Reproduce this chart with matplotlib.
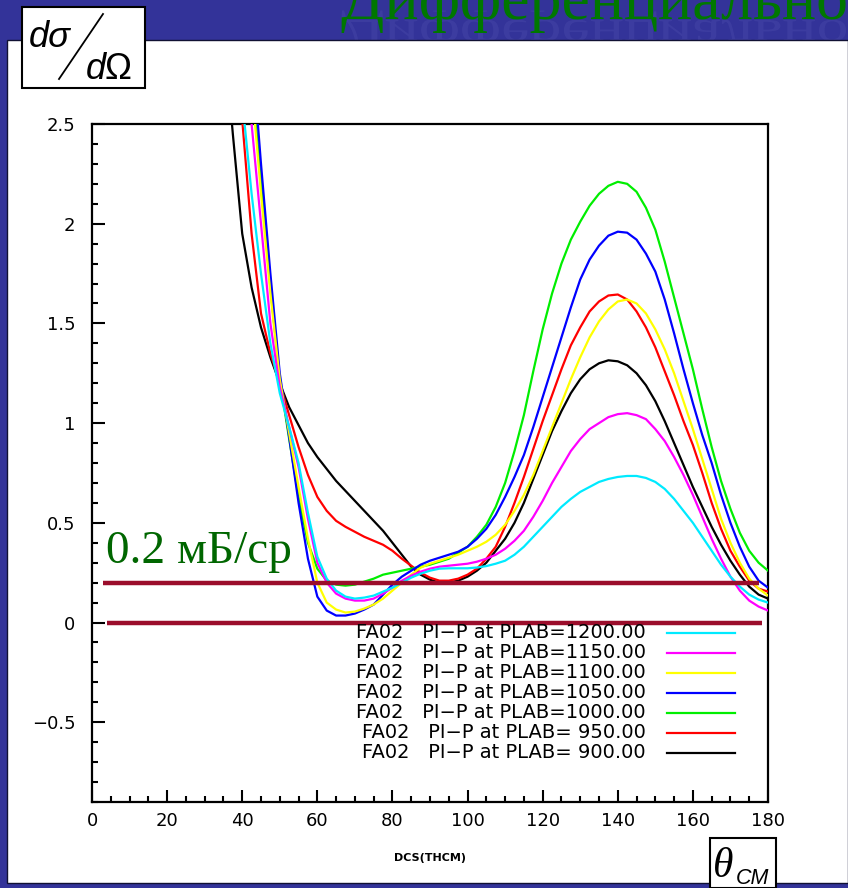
from __future__ import annotations

import matplotlib

matplotlib.use("Agg")
import matplotlib.pyplot as plt
from matplotlib.font_manager import FontProperties
from matplotlib.lines import Line2D
from matplotlib.patches import PathPatch, Rectangle
from matplotlib.textpath import TextPath
from matplotlib.ticker import MultipleLocator
from matplotlib.transforms import Affine2D

# scattering angle in the CM frame, degrees
ANGLE = [35, 37.5, 40, 42.5, 45, 47.5, 50, 52.5, 55, 57.5,
         60, 62.5, 65, 67.5, 70, 72.5, 75, 77.5, 80, 82.5,
         85, 87.5, 90, 92.5, 95, 97.5, 100, 102.5, 105, 107.5,
         110, 112.5, 115, 117.5, 120, 122.5, 125, 127.5, 130, 132.5,
         135, 137.5, 140, 142.5, 145, 147.5, 150, 152.5, 155, 157.5,
         160, 162.5, 165, 167.5, 170, 172.5, 175, 177.5, 180]

# dsigma/dOmega (mb/sr), one list per beam momentum
DCS_1200 = [4.0, 3.2, 2.62, 2.15, 1.75, 1.4, 1.15, 0.98, 0.8, 0.55,
            0.33, 0.22, 0.16, 0.13, 0.12, 0.125, 0.135, 0.155, 0.175, 0.2,
            0.225, 0.245, 0.26, 0.27, 0.272, 0.272, 0.272, 0.276, 0.283, 0.295,
            0.31, 0.34, 0.38, 0.43, 0.48, 0.53, 0.58, 0.62, 0.655, 0.68,
            0.705, 0.72, 0.73, 0.735, 0.735, 0.725, 0.705, 0.67, 0.62, 0.56,
            0.5, 0.43, 0.36, 0.29, 0.23, 0.18, 0.14, 0.115, 0.1]
DCS_1150 = [4.5, 3.7, 3.0, 2.5, 2.0, 1.5, 1.18, 0.98, 0.78, 0.52,
            0.3, 0.2, 0.145, 0.12, 0.11, 0.11, 0.12, 0.145, 0.175, 0.21,
            0.235, 0.255, 0.27, 0.28, 0.285, 0.29, 0.295, 0.305, 0.32, 0.34,
            0.37, 0.41, 0.46, 0.53, 0.61, 0.7, 0.78, 0.86, 0.92, 0.97,
            1.0, 1.03, 1.045, 1.05, 1.04, 1.02, 0.97, 0.91, 0.83, 0.74,
            0.64, 0.53, 0.42, 0.32, 0.23, 0.16, 0.11, 0.08, 0.06]
DCS_1100 = [5.0, 4.1, 3.3, 2.7, 2.15, 1.65, 1.22, 0.95, 0.68, 0.42,
            0.2, 0.1, 0.065, 0.05, 0.055, 0.07, 0.09, 0.12, 0.16, 0.2,
            0.24, 0.275, 0.295, 0.31, 0.325, 0.34, 0.36, 0.38, 0.405, 0.44,
            0.49, 0.56, 0.64, 0.74, 0.86, 0.98, 1.1, 1.22, 1.33, 1.43,
            1.51, 1.57, 1.61, 1.62, 1.6, 1.55, 1.47, 1.37, 1.25, 1.11,
            0.97, 0.82, 0.67, 0.52, 0.4, 0.3, 0.22, 0.17, 0.135]
DCS_1050 = [5.0, 4.3, 3.6, 2.9, 2.3, 1.75, 1.25, 0.93, 0.6, 0.32,
            0.13, 0.06, 0.035, 0.035, 0.045, 0.065, 0.09, 0.14, 0.19, 0.23,
            0.26, 0.29, 0.31, 0.325, 0.34, 0.355, 0.38, 0.42, 0.47, 0.54,
            0.63, 0.73, 0.84, 0.98, 1.13, 1.28, 1.43, 1.58, 1.72, 1.82,
            1.89, 1.94, 1.96, 1.955, 1.92, 1.85, 1.76, 1.62, 1.45, 1.27,
            1.1, 0.94, 0.8, 0.64, 0.5, 0.38, 0.28, 0.21, 0.175]
DCS_1000 = [5.0, 4.2, 3.4, 2.75, 2.2, 1.68, 1.22, 0.92, 0.63, 0.4,
            0.27, 0.21, 0.19, 0.185, 0.19, 0.205, 0.22, 0.24, 0.25, 0.26,
            0.27, 0.28, 0.29, 0.305, 0.32, 0.35, 0.38, 0.43, 0.49, 0.58,
            0.7, 0.86, 1.04, 1.26, 1.47, 1.65, 1.8, 1.92, 2.01, 2.09,
            2.15, 2.19, 2.21, 2.2, 2.16, 2.08, 1.97, 1.81, 1.63, 1.45,
            1.27, 1.07, 0.88, 0.71, 0.57, 0.45, 0.36, 0.3, 0.26]
DCS_950 = [4.0, 3.2, 2.52, 1.95, 1.55, 1.35, 1.2, 1.04, 0.88, 0.74,
           0.63, 0.56, 0.51, 0.48, 0.455, 0.43, 0.41, 0.39, 0.36, 0.32,
           0.285, 0.25, 0.225, 0.21, 0.21, 0.22, 0.24, 0.27, 0.32, 0.38,
           0.48, 0.6, 0.73, 0.87, 1.01, 1.14, 1.27, 1.39, 1.48, 1.56,
           1.61, 1.64, 1.645, 1.62, 1.56, 1.48, 1.38, 1.26, 1.14, 1.01,
           0.89, 0.75, 0.6, 0.47, 0.36, 0.28, 0.21, 0.17, 0.155]
DCS_900 = [3.0, 2.45, 1.95, 1.68, 1.48, 1.33, 1.2, 1.08, 0.99, 0.9,
           0.83, 0.77, 0.71, 0.66, 0.61, 0.56, 0.51, 0.46, 0.4, 0.34,
           0.28, 0.24, 0.215, 0.2, 0.2, 0.21, 0.23, 0.26, 0.3, 0.36,
           0.42, 0.5, 0.6, 0.72, 0.84, 0.96, 1.06, 1.15, 1.22, 1.27,
           1.3, 1.315, 1.31, 1.29, 1.25, 1.19, 1.11, 1.01, 0.9, 0.79,
           0.68, 0.58, 0.48, 0.39, 0.31, 0.24, 0.18, 0.14, 0.12]

PLAB = [1200, 1150, 1100, 1050, 1000, 950, 900]
SERIES = [DCS_1200, DCS_1150, DCS_1100, DCS_1050, DCS_1000, DCS_950, DCS_900]
COLORS = ["#00eaff", "#ff00ff", "#ffff00", "#0000ff", "#00ee00", "#ff0000", "#000000"]

# the two dark red guide lines: level and angular extent
GUIDE_LEVELS = [0.2, 0.0]
GUIDE_START = [3.0, 4.0]
GUIDE_END = [177.5, 178.5]

TITLE = "Дифференциальное сечение"

W, H = 848, 888
BLUE = "#333399"
GUIDE_RED = "#9b0d2b"
SANS = "DejaVu Sans"
ARIAL = "Liberation Sans"
SERIF = "Liberation Serif"

for dcs in SERIES:
    assert len(dcs) == len(ANGLE)


def fx(px: float) -> float:
    return px / W


def fy(py: float) -> float:
    return 1 - py / H


fig = plt.figure(figsize=(W / 100, H / 100), dpi=100)
fig.patch.set_facecolor(BLUE)

# white slide panel
fig.add_artist(Rectangle((fx(7), fy(883)), fx(W - 7), (883 - 40) / H,
                         transform=fig.transFigure, facecolor="white",
                         edgecolor="#111133", lw=1.0, zorder=0))

# slide title, mostly cut off by the top edge, plus its faint mirror image
TITLE_SIZE = 46
fig.text(fx(341), fy(19), TITLE, fontsize=TITLE_SIZE, family=SERIF,
         color="#007700", va="baseline", zorder=1)
mirror = TextPath((0, 0), TITLE, size=TITLE_SIZE * 100 / 72, prop=FontProperties(family=SERIF))
fig.add_artist(PathPatch(mirror, transform=Affine2D().scale(1, -0.7).translate(341, H - 20),
                         facecolor="#8080d0", lw=0, alpha=0.13, zorder=-1))

ax = fig.add_axes([fx(92), fy(802), fx(768 - 92), (802 - 124) / H])
ax.set_facecolor("white")

for dcs, color in zip(SERIES[::-1], COLORS[::-1]):
    ax.plot(ANGLE, dcs, color=color, lw=1.6, zorder=3)

for level, x0, x1 in zip(GUIDE_LEVELS, GUIDE_START, GUIDE_END):
    ax.plot([x0, x1], [level, level], color=GUIDE_RED, lw=3.2,
            solid_capstyle="butt", zorder=5)

ax.text(3.7, 0.30, "0.2 мБ/ср", family=SERIF, fontsize=34,
        color="#006600", va="baseline", zorder=6)

ax.set_xlim(0, 180)
ax.set_ylim(-0.9, 2.5)
ax.xaxis.set_major_locator(MultipleLocator(20))
ax.xaxis.set_minor_locator(MultipleLocator(5))
ax.yaxis.set_major_locator(MultipleLocator(0.5))
ax.yaxis.set_minor_locator(MultipleLocator(0.1))
ax.yaxis.set_major_formatter(plt.FuncFormatter(lambda v, _: f"{v:g}".replace("-", "\u2212")))
ax.tick_params(which="both", direction="in", top=False, right=False,
               width=1.5, labelsize=13)
ax.tick_params(which="major", length=9)
ax.tick_params(which="minor", length=4.5)
ax.tick_params(axis="y", pad=12)
ax.tick_params(axis="x", pad=7)
for lab in ax.get_xticklabels() + ax.get_yticklabels():
    lab.set_family(SANS)
for sp in ax.spines.values():
    sp.set_linewidth(1.6)

# legend drawn the way the original program did: right-aligned text, line to the right
for i, (p, color) in enumerate(zip(PLAB, COLORS)):
    y = 0.2493 - i * 0.0295
    ax.text(0.8195, y, f"FA02   PI\u2212P at PLAB={p:7.2f}", transform=ax.transAxes,
            ha="right", va="center", family=SANS, fontsize=14, zorder=6)
    ax.plot([0.8506, 0.9512], [y, y], color=color, lw=1.6,
            transform=ax.transAxes, clip_on=False, zorder=6)

fig.text(fx(430), fy(858), "DCS(THCM)", ha="center", va="center",
         family=SANS, fontsize=8, weight="bold")

# d(sigma)/d(Omega) box, top left
fig.add_artist(Rectangle((fx(22), fy(88)), fx(123), 81 / H, transform=fig.transFigure,
                         facecolor="white", edgecolor="black", lw=1.5, zorder=2))
fig.text(fx(29), fy(47), "dσ", family=ARIAL, style="italic", fontsize=26,
         va="baseline", zorder=3)
fig.text(fx(86), fy(79), "d", family=ARIAL, style="italic", fontsize=26,
         va="baseline", zorder=3)
fig.text(fx(105), fy(79), "Ω", family=ARIAL, fontsize=26, va="baseline", zorder=3)
fig.add_artist(Line2D([fx(59), fx(103)], [fy(79), fy(14)], transform=fig.transFigure,
                      color="black", lw=1.3, zorder=3))

# theta_CM box, bottom right
fig.add_artist(Rectangle((fx(710), fy(888)), fx(66), 50 / H, transform=fig.transFigure,
                         facecolor="white", edgecolor="black", lw=1.5, zorder=2))
fig.text(fx(713), fy(877), "θ", family=SERIF, style="italic", fontsize=30,
         va="baseline", zorder=3)
fig.text(fx(736), fy(884), "CM", family=ARIAL, style="italic", fontsize=15.5,
         va="baseline", zorder=3)

fig.savefig("out.png", dpi=100, facecolor=fig.get_facecolor())
